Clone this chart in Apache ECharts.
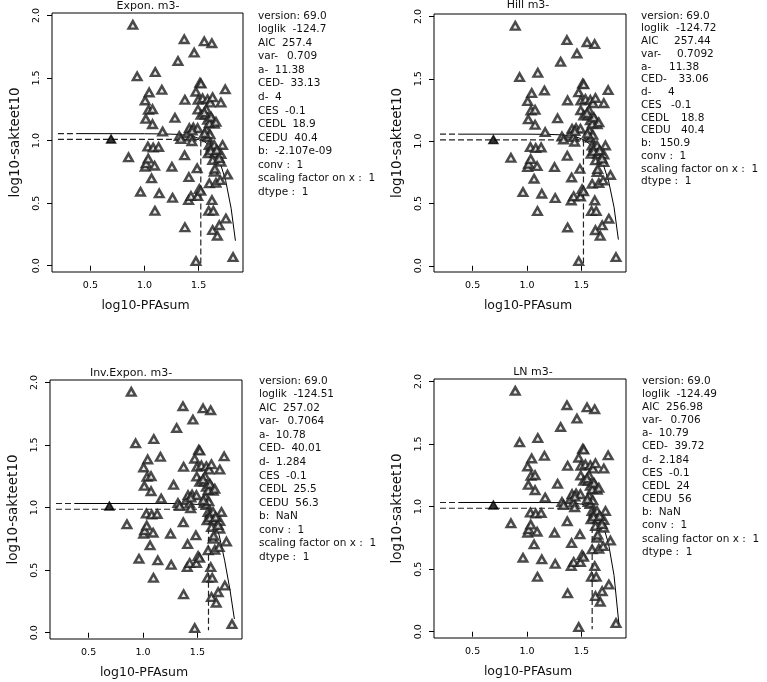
<!DOCTYPE html>
<html><head><meta charset="utf-8">
<script src="https://cdn.jsdelivr.net/npm/echarts@6/dist/echarts.min.js"></script>
<style>html,body{margin:0;padding:0;background:#fff}#c{width:767px;height:682px}</style>
</head><body><div id="c"></div>
<script>
// ---------- data ----------
const pfaX = [0.892,0.852,0.932,0.963,1.006,1.012,1.006,1.015,1.037,1.074,1.043,1.031,1.080,1.130,1.034,1.093,1.065,1.074,1.099,1.096,
  1.136,1.160,1.167,1.253,1.259,1.281,1.309,1.321,1.336,1.367,1.370,1.373,1.373,1.398,1.410,1.407,1.429,1.414,1.429,1.438,
  1.451,1.459,1.475,1.475,1.486,1.491,1.491,1.494,1.496,1.506,1.520,1.512,1.522,1.537,1.522,1.552,1.562,1.562,1.574,1.583,
  1.583,1.582,1.598,1.589,1.599,1.593,1.607,1.622,1.629,1.630,1.645,1.617,1.644,1.650,1.630,1.644,1.660,1.623,1.636,1.629,
  1.673,1.691,1.706,1.721,1.706,1.706,1.700,1.746,1.752,1.767,1.818,1.600,1.615,1.660,1.570,1.552,1.605,1.440,1.612,1.668,
  1.690,1.650,1.555];
const saktY = [1.925,0.866,1.513,0.591,1.321,1.174,0.791,0.818,1.246,1.251,1.385,0.952,0.944,0.949,0.856,0.799,0.698,1.131,1.548,0.439,
  0.578,1.406,1.072,0.791,0.543,1.182,1.636,1.036,1.013,1.810,0.882,1.326,0.307,1.059,0.708,0.524,0.557,1.099,1.032,0.995,
  1.104,1.703,1.391,0.037,0.778,1.099,0.556,1.248,1.326,0.613,0.598,1.462,1.455,1.337,1.206,1.793,1.206,1.037,1.086,1.166,
  1.027,1.330,0.965,0.898,0.658,0.439,1.304,1.778,1.346,1.166,1.134,0.952,0.965,0.898,0.845,0.751,0.663,0.524,0.439,0.285,
  0.240,0.324,1.304,0.965,0.893,0.831,0.684,1.409,0.377,0.728,0.069,1.140,1.190,1.150,1.250,1.225,1.050,1.080,0.920,0.925,
  0.860,0.775,1.060];
const controlX = [0.691];
const controlY = [1.013];

const panelTitles = ['Expon. m3-', 'Hill m3-', 'Inv.Expon. m3-', 'LN m3-'];
const xAxisTitle = 'log10-PFAsum';
const yAxisTitle = 'log10-sakteet10';
const xTicks = [0.5, 1.0, 1.5];
const yTicks = [0.0, 0.5, 1.0, 1.5, 2.0];

// fitted curves
const curveExponX = [0.37,1.0,1.2,1.3,1.4,1.45,1.5,1.55,1.6,1.65,1.7,1.75,1.8,1.84];
const curveExponY = [1.056,1.055,1.053,1.050,1.042,1.034,1.018,0.995,0.96,0.905,0.82,0.68,0.46,0.2];
const curveHillX = [0.37,1.0,1.2,1.3,1.4,1.45,1.5,1.55,1.6,1.65,1.7,1.75,1.8,1.84];
const curveHillY = [1.056,1.056,1.054,1.051,1.043,1.034,1.019,0.995,0.958,0.90,0.815,0.68,0.47,0.21];
const curveInvExpX = [0.37,1.0,1.3,1.4,1.5,1.55,1.6,1.65,1.7,1.75,1.8,1.84];
const curveInvExpY = [1.033,1.033,1.033,1.032,1.025,1.012,0.988,0.93,0.78,0.58,0.34,0.11];
const curveLNX = [0.37,1.0,1.3,1.4,1.5,1.55,1.6,1.65,1.7,1.75,1.8,1.845];
const curveLNY = [1.033,1.033,1.032,1.030,1.020,1.008,0.987,0.94,0.85,0.70,0.45,0.06];

// reference levels per panel
const levelA = [1.056, 1.056, 1.033, 1.033];
const levelCES = [1.010, 1.010, 0.987, 0.987];
const cedX = [1.520, 1.519, 1.602, 1.599];
const dashStartX = 0.2;
const solidStartX = 0.37;
const cedBottomY = 0.02;

// fit summaries
const infoHead = 'version: 69.0';
const infoNames = ['loglik','AIC','var-','a-','CED-','d-','CES','CEDL','CEDU','b:'];
const infoExpon = ['-124.7','257.4','0.709','11.38','33.13','4','-0.1','18.9','40.4','-2.107e-09'];
const infoHill = ['-124.72','257.44','0.7092','11.38','33.06','4','-0.1','18.8','40.4','150.9'];
const infoInvExp = ['-124.51','257.02','0.7064','10.78','40.01','1.284','-0.1','25.5','56.3','NaN'];
const infoLN = ['-124.49','256.98','0.706','10.79','39.72','2.184','-0.1','24','56','NaN'];
const infoTail = ['conv :  1','scaling factor on x :  1','dtype :  1'];

// ---------- layout ----------
const FONT = "'DejaVu Sans', 'Liberation Sans', sans-serif";
const grids = [
  {left:52, top:13, width:191, height:259},
  {left:434, top:14, width:192, height:258},
  {left:50, top:380, width:192, height:259},
  {left:434, top:379, width:192, height:259}
];
const titlePos = [[148,6],[528,5],[131,373],[533,372]];
const infoPos = [[258,16,13.55],[641,16,12.75],[259,381,13.54],[642,381,13.15]];
const valueOffsets = [
  [34.5,24.1,29,16.7,32.4,17,27.1,34.4,36.3,16.7],
  [35,33,36,28,37.5,27,30,40,40,19],
  [34.5,24.1,28.5,16.7,32.4,17,27.1,34.4,36.3,16.7],
  [34.5,24.1,28.5,16.7,32.4,17,27.1,34.4,36.3,16.7]
];
const curvesX = [curveExponX, curveHillX, curveInvExpX, curveLNX];
const curvesY = [curveExponY, curveHillY, curveInvExpY, curveLNY];
const infos = [infoExpon, infoHill, infoInvExp, infoLN];

const zip = (a, b) => a.map((v, i) => [v, b[i]]);
const points = zip(pfaX, saktY);
const control = zip(controlX, controlY);

const option = {
  animation: false,
  backgroundColor: '#fff',
  grid: [], xAxis: [], yAxis: [], series: [], graphic: []
};

function txt(x, y, s, font, align, extra) {
  return Object.assign({type:'text', x:x, y:y, silent:true,
    style:{text:s, font:font, fill:'#111', textAlign:align || 'left', textVerticalAlign:'middle'}}, extra || {});
}

grids.forEach((g, i) => {
  option.grid.push(Object.assign({show:true, borderColor:'#000', borderWidth:1, containLabel:false}, g));
  option.xAxis.push({
    type:'value', gridIndex:i, min:0.145, max:1.91,
    splitLine:{show:false},
    axisLine:{show:false},
    axisTick:{show:true, customValues:xTicks, length:5, lineStyle:{color:'#000'}},
    axisLabel:{show:true, customValues:xTicks, formatter:v=>v.toFixed(1), margin:9, fontSize:9.5, color:'#000', fontFamily:FONT}
  });
  option.yAxis.push({
    type:'value', gridIndex:i, min:-0.05, max:2.02,
    splitLine:{show:false},
    axisLine:{show:false},
    axisTick:{show:true, customValues:yTicks, length:5, lineStyle:{color:'#000'}},
    axisLabel:{show:true, customValues:yTicks, formatter:v=>v.toFixed(1), rotate:90, margin:10, fontSize:9.5, color:'#000', fontFamily:FONT, align:'center', verticalAlign:'bottom'}
  });
  option.series.push({
    type:'line', xAxisIndex:i, yAxisIndex:i, data:zip(curvesX[i], curvesY[i]), symbol:'none', silent:true,
    lineStyle:{color:'#000', width:1}, z:3
  });
  option.series.push({
    type:'line', xAxisIndex:i, yAxisIndex:i, data:[[dashStartX, levelA[i]],[solidStartX, levelA[i]]], symbol:'none', silent:true,
    lineStyle:{color:'#222', width:1.2, type:[6,3]}, z:3
  });
  option.series.push({
    type:'line', xAxisIndex:i, yAxisIndex:i, data:[[dashStartX, levelCES[i]],[cedX[i], levelCES[i]],[cedX[i], cedBottomY]], symbol:'none', silent:true,
    lineStyle:{color:'#222', width:1.2, type:[6,3]}, z:3
  });
  option.series.push({
    type:'scatter', xAxisIndex:i, yAxisIndex:i, data:points, symbol:'triangle', symbolSize:[8.5,7.5], silent:true,
    itemStyle:{color:'#e6e6e6', borderColor:'#1f1f1f', borderWidth:2.5}, z:4
  });
  option.series.push({
    type:'scatter', xAxisIndex:i, yAxisIndex:i, data:control, symbol:'triangle', symbolSize:[9,8], silent:true,
    itemStyle:{color:'#000', borderColor:'#000', borderWidth:1.5}, z:4
  });
  // panel title
  option.graphic.push(txt(titlePos[i][0], titlePos[i][1], panelTitles[i], '11px '+FONT, 'center'));
  // x axis title
  option.graphic.push(txt(g.left + g.width/2 - 2, g.top + g.height + 34, xAxisTitle, '12.5px '+FONT, 'center'));
  // y axis title
  option.graphic.push(txt(g.left - 37, g.top + g.height/2, yAxisTitle, '13.5px '+FONT, 'center', {rotation:Math.PI/2}));
  // info text
  const [ix, iy, dy] = infoPos[i];
  const f = '10.5px ' + FONT;
  option.graphic.push(txt(ix, iy, infoHead, f));
  infoNames.forEach((nm, k) => {
    const y = iy + (k + 1) * dy;
    option.graphic.push(txt(ix, y, nm, f));
    option.graphic.push(txt(ix + valueOffsets[i][k], y, infos[i][k], f));
  });
  infoTail.forEach((s, k) => {
    option.graphic.push(txt(ix, iy + (k + 11) * dy, s, f));
  });
});

const chart = echarts.init(document.getElementById('c'), null, {renderer:'canvas'});
chart.setOption(option);
</script></body></html>
